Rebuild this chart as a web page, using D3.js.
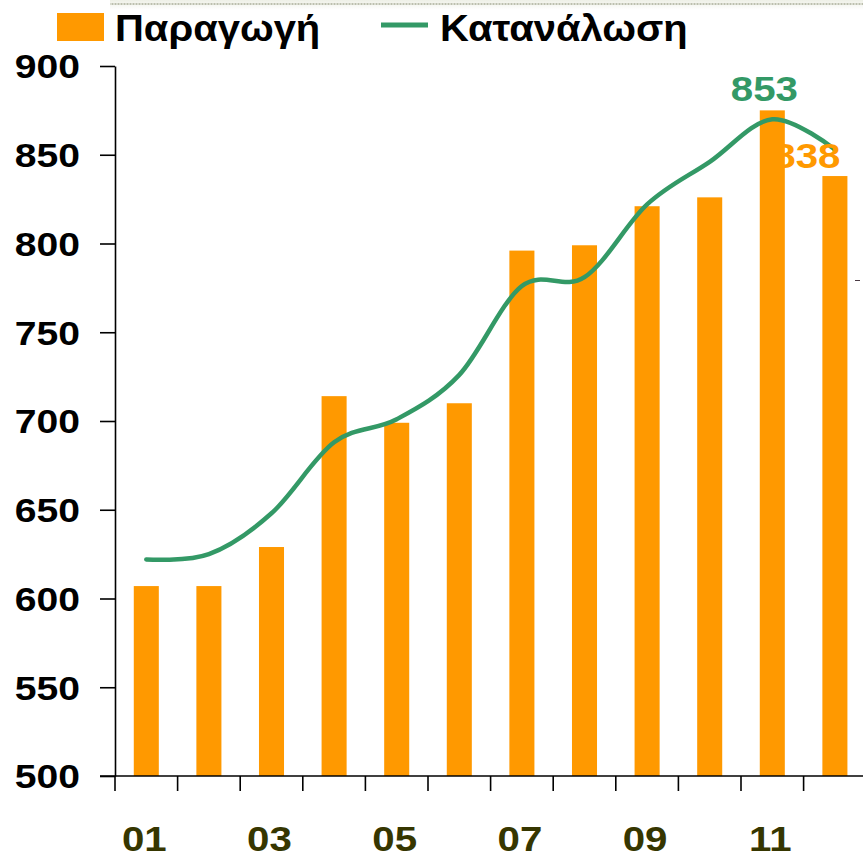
<!DOCTYPE html>
<html>
<head>
<meta charset="utf-8">
<script src="https://cdn.jsdelivr.net/npm/d3@7"></script>
<style>
  html, body { margin: 0; padding: 0; background: #fff; }
  svg { display: block; font-family: "Liberation Sans", Arial, sans-serif; font-weight: bold; }
</style>
</head>
<body>
<svg class="chart" width="863" height="858"></svg>
<script>
const months = ["01", "02", "03", "04", "05", "06", "07", "08", "09", "10", "11", "12"];
const monthLabels = ["01", "03", "05", "07", "09", "11"];
const production = [607, 607, 629, 714, 699, 710, 796, 799, 821, 826, 875, 838];
const consumption = [622, 625, 648, 688, 701, 726, 776, 781, 822, 846, 870, 853];
const yTicks = [500, 550, 600, 650, 700, 750, 800, 850, 900];
const seriesNames = ["Παραγωγή", "Κατανάλωση"];

const orange = "#ff9900";
const green = "#339966";
const sx = 1.15; // text in the original is stretched sideways

const svg = d3.select("svg.chart");

// dotted strip along the top edge
const defs = svg.append("defs");
const grad = defs.append("linearGradient")
  .attr("id", "stripFade")
  .attr("x1", 0).attr("y1", 0).attr("x2", 0).attr("y2", 1);
grad.append("stop").attr("offset", "0%").attr("stop-color", "#eef0e6");
grad.append("stop").attr("offset", "100%").attr("stop-color", "#ffffff");
defs.append("pattern")
  .attr("id", "dots")
  .attr("width", 3).attr("height", 9)
  .attr("patternUnits", "userSpaceOnUse")
  .append("rect")
  .attr("x", 0.5).attr("y", 3)
  .attr("width", 2).attr("height", 2)
  .attr("fill", "#bcbfae");
svg.append("rect")
  .attr("x", 110).attr("y", 0)
  .attr("width", 753).attr("height", 10)
  .attr("fill", "url(#stripFade)");
svg.append("rect")
  .attr("x", 110).attr("y", 0)
  .attr("width", 753).attr("height", 9)
  .attr("fill", "url(#dots)");

const x = d3.scaleBand()
  .domain(months)
  .range([115, 115 + 12 * 62.6])
  .paddingInner(0.6)
  .paddingOuter(0.3);

const y = d3.scaleLinear()
  .domain([500, 900])
  .range([776, 66]);

// bars
svg.append("g")
  .selectAll("rect")
  .data(production)
  .enter().append("rect")
  .attr("x", (d, i) => x(months[i]))
  .attr("y", d => y(d))
  .attr("width", x.bandwidth())
  .attr("height", d => y(500) - y(d))
  .attr("fill", orange);

// axes
svg.append("g")
  .attr("transform", "translate(115,0)")
  .call(d3.axisLeft(y).tickValues(yTicks).tickSize(15).tickSizeOuter(0).tickFormat(""));

const xAxis = svg.append("g")
  .attr("transform", "translate(0,776)")
  .call(d3.axisBottom(x).tickSize(0).tickSizeOuter(0).tickFormat(""));
xAxis.select(".domain").attr("d", "M100,0H863");

svg.append("g")
  .attr("class", "x-ticks")
  .selectAll("line")
  .data(months)
  .enter().append("line")
  .attr("x1", d => x(d) - x.step() * 0.3)
  .attr("x2", d => x(d) - x.step() * 0.3)
  .attr("y1", 776)
  .attr("y2", 791);

svg.selectAll(".domain, .tick line, .x-ticks line")
  .attr("stroke", "#000")
  .attr("stroke-width", 1.6);

// y tick labels
svg.append("g")
  .selectAll("g")
  .data(yTicks)
  .enter().append("g")
  .attr("transform", d => "translate(80," + y(d) + ") scale(" + sx + ",1)")
  .append("text")
  .attr("text-anchor", "end")
  .attr("dy", "0.36em")
  .attr("font-size", 34)
  .attr("fill", "#000")
  .text(d => d);

// x tick labels
svg.append("g")
  .selectAll("g")
  .data(monthLabels)
  .enter().append("g")
  .attr("transform", d => "translate(" + (x(d) + x.bandwidth() / 2 - 2) + ",851) scale(" + sx + ",1)")
  .append("text")
  .attr("text-anchor", "middle")
  .attr("font-size", 35)
  .attr("fill", "#363600")
  .text(d => d);

// consumption line
const line = d3.line()
  .x((d, i) => x(months[i]) + x.bandwidth() / 2)
  .y(d => y(d))
  .curve(d3.curveCardinal.tension(0));

svg.append("path")
  .datum(consumption)
  .attr("fill", "none")
  .attr("stroke", green)
  .attr("stroke-width", 4.5)
  .attr("stroke-linecap", "round")
  .attr("stroke-linejoin", "round")
  .attr("d", line);

// end labels
const last = months.length - 1;
svg.append("g")
  .attr("transform", "translate(" + (x(months[last]) - 58) + ",101) scale(" + sx + ",1)")
  .append("text")
  .attr("text-anchor", "middle")
  .attr("font-size", 35)
  .attr("fill", green)
  .text(consumption[last]);

svg.append("g")
  .attr("transform", "translate(" + (x(months[last]) + 18) + ",168) scale(" + sx + ",1)")
  .append("text")
  .attr("text-anchor", "end")
  .attr("font-size", 35)
  .attr("fill", orange)
  .text(production[last]);

// stray mark at the right edge
svg.append("line")
  .attr("x1", 855).attr("x2", 860)
  .attr("y1", 280.5).attr("y2", 280.5)
  .attr("stroke", "#4a3a44")
  .attr("stroke-width", 1);

// legend
const legend = svg.append("g");
legend.append("rect")
  .attr("x", 57).attr("y", 13)
  .attr("width", 47).attr("height", 28)
  .attr("fill", orange);
legend.append("g")
  .attr("transform", "translate(115,41) scale(1.08,1)")
  .append("text")
  .attr("font-size", 37)
  .attr("fill", "#000")
  .text(seriesNames[0]);
legend.append("line")
  .attr("x1", 381).attr("x2", 428)
  .attr("y1", 25).attr("y2", 25)
  .attr("stroke", green)
  .attr("stroke-width", 5);
legend.append("g")
  .attr("transform", "translate(440,41) scale(1.08,1)")
  .append("text")
  .attr("font-size", 37)
  .attr("fill", "#000")
  .text(seriesNames[1]);
</script>
</body>
</html>
